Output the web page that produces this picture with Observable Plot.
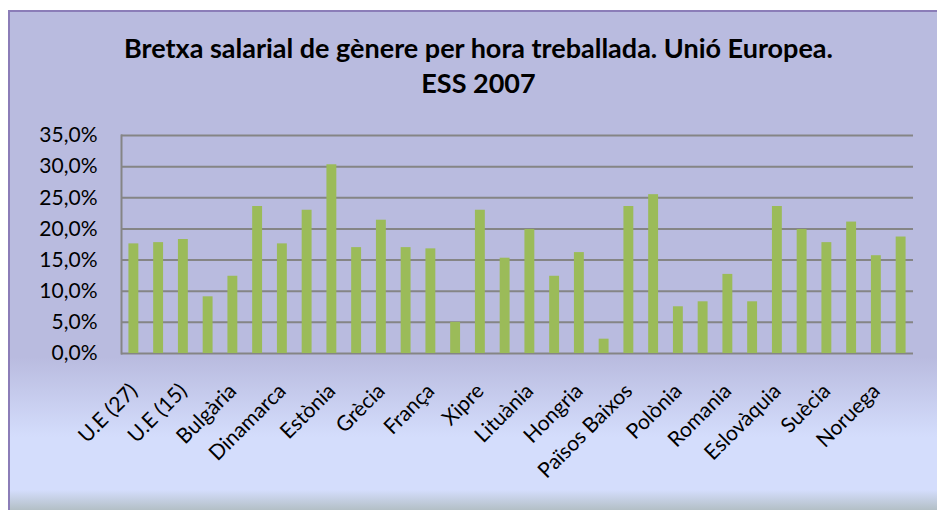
<!DOCTYPE html>
<html>
<head>
<meta charset="utf-8">
<script src="https://cdn.jsdelivr.net/npm/d3@7"></script>
<script src="https://cdn.jsdelivr.net/npm/@observablehq/plot@0.6"></script>
<style>
  html, body { margin: 0; padding: 0; background: #ffffff; }
  body { width: 937px; height: 510px; position: relative; overflow: hidden; font-family: Lato, "Open Sans", sans-serif; }
  #frame {
    position: absolute; left: 8px; top: 10px; width: 940px; height: 510px;
    border-left: 2px solid #8b7db8; border-top: 2px solid #8b7db8;
    background: linear-gradient(to bottom, #b9bbdf 0px, #b9bbdf 345px, #d4ddfc 425px, #d4ddfc 478px, #b3bfc6 498px);
  }
  #title {
    position: absolute; left: 0; top: 30px; width: 957px; text-align: center;
    font-weight: bold; font-size: 27px; line-height: 35px; color: #000;
  }
  #chart { position: absolute; left: 0; top: 0; }
</style>
</head>
<body>
<div id="frame"></div>
<div id="title">Bretxa salarial de gènere per hora treballada. Unió Europea.<br>ESS 2007</div>
<div id="chart"></div>
<script>
const categories = [
  "U.E (27)", "U.E (25)", "U.E (15)", "Bèlgica", "Bulgària", "República Txeca",
  "Dinamarca", "Alemanya", "Estònia", "Irlanda", "Grècia", "Espanya",
  "França", "Itàlia", "Xipre", "Letònia", "Lituània", "Luxemburg",
  "Hongria", "Malta", "Països Baixos", "Àustria", "Polònia", "Portugal",
  "Romania", "Eslovènia", "Eslovàquia", "Finlàndia", "Suècia", "Regne Unit",
  "Noruega", "Islàndia"
];
const values = [
  17.6, 17.8, 18.3, 9.1, 12.4, 23.6,
  17.6, 23.0, 30.3, 17.0, 21.4, 17.0,
  16.8, 5.0, 23.0, 15.3, 19.9, 12.4,
  16.2, 2.3, 23.6, 25.5, 7.5, 8.3,
  12.7, 8.3, 23.6, 19.9, 17.8, 21.1,
  15.7, 18.7
];
const yTicks = [0, 5, 10, 15, 20, 25, 30, 35];
const xTickLabels = categories.filter((d, i) => i % 2 === 0);

const data = categories.map((c, i) => ({country: c, value: values[i]}));
const fmt = d => d.toFixed(1).replace(".", ",") + "%";

const chart = Plot.plot({
  width: 937,
  height: 510,
  marginTop: 135,
  marginBottom: 157,
  marginLeft: 121,
  marginRight: 24,
  style: {background: "transparent", fontFamily: "Lato, 'Open Sans', sans-serif", fontSize: "20px", color: "#000", overflow: "visible"},
  x: {domain: categories, paddingInner: 0.6, paddingOuter: 0.3, align: 0.5, round: false},
  y: {domain: [0, 35]},
  marks: [
    Plot.ruleY(yTicks, {stroke: "#858585", strokeWidth: 2, strokeOpacity: 1}),
    Plot.frame({anchor: "left", stroke: "#858585", strokeWidth: 2}),
    Plot.barY(data, {x: "country", y: "value", fill: "#9bbb59"}),
    Plot.axisY({ticks: yTicks, tickFormat: fmt, tickSize: 0, tickPadding: 24, fontSize: 21, label: null}),
    Plot.axisX({ticks: xTickLabels, tickSize: 0, tickPadding: 34, tickRotate: -45, fontSize: 21, label: null, dx: 0})
  ]
});
document.getElementById("chart").appendChild(chart);
</script>
</body>
</html>
